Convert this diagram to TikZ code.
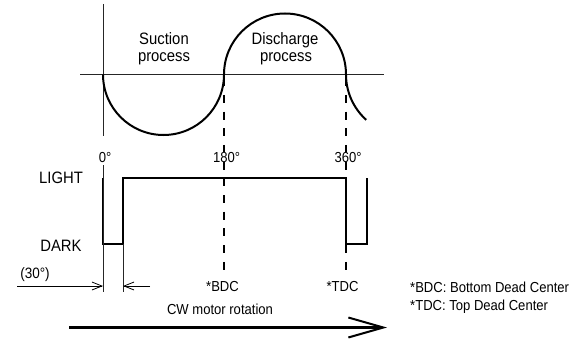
\documentclass[tikz,border=0pt]{standalone}
\usepackage{fontspec}
\setmainfont{Liberation Sans}[FakeStretch=0.9]
\usetikzlibrary{arrows.meta}
\begin{document}
\begin{tikzpicture}[x=1pt,y=1pt,
  thinline/.style={line width=1pt, black!85},
  curveline/.style={line width=2pt},
  wave/.style={line width=2pt, line join=miter},
  dashline/.style={line width=2.7pt, dash pattern=on 8pt off 8.7pt},
  bigtext/.style={font=\fontsize{16.5}{19}\selectfont, inner sep=0pt, anchor=base},
  smalltext/.style={font=\fontsize{14.5}{17}\selectfont, inner sep=0pt, anchor=base},
  dimarrow/.style={line width=0.8pt, -{Straight Barb[length=10pt,width=8pt]}},
  mainarrow/.style={line width=2.2pt, -{Straight Barb[length=35pt,width=20pt,line width=2pt]}}]
\useasboundingbox (0,0) rectangle (583,338);
% axes
\coordinate (ax0) at (80,263.5);
\coordinate (ax1) at (384,263.5);
\coordinate (vtop) at (103,334);
\coordinate (vbot) at (103,202);
\draw[thinline] (ax0) -- (ax1);
\draw[thinline] (vtop) -- (vbot);
% piston curve
\coordinate (c0) at (103,263.5);
\draw[curveline] (c0) arc[start angle=180,end angle=360,radius=60.5]
  arc[start angle=180,end angle=0,radius=61]
  arc[start angle=180,end angle=228,radius=61];
% dashed lines
\coordinate (d1t) at (224,259.9);
\coordinate (d1b) at (224,68);
\coordinate (d2t) at (346,259.9);
\coordinate (d2b) at (346,68);
\draw[dashline] (d1t) -- (d1b);
\draw[dashline] (d2t) -- (d2b);
% waveform
\coordinate (w1) at (103,160.3);
\coordinate (w2) at (103,93.7);
\coordinate (w3) at (123,93.7);
\coordinate (w4) at (123,160.3);
\coordinate (w5) at (346,160.3);
\coordinate (w6) at (346,93.7);
\coordinate (w7) at (367,93.7);
\coordinate (w8) at (367,160.3);
\draw[wave] (w1) -- (w2) -- (w3) -- (w4) -- (w5) -- (w6) -- (w7) -- (w8);
% extension lines and dimension
\coordinate (e1t) at (103,173);
\coordinate (e1b) at (103,46);
\coordinate (e2t) at (123,94);
\coordinate (e2b) at (123,46);
\draw[thinline] (e1t) -- (e1b);
\draw[thinline] (e2t) -- (e2b);
\coordinate (dl) at (17,52);
\coordinate (dla) at (103,52);
\coordinate (dr) at (150,52);
\coordinate (dra) at (123,52);
\draw[dimarrow] (dl) -- (dla);
\draw[dimarrow] (dr) -- (dra);
% labels
\node[bigtext] (suc1) at (164,293.7) {Suction};
\node[bigtext] (suc2) at (164,276.3) {process};
\node[bigtext] (dis1) at (285,293.7) {Discharge};
\node[bigtext] (dis2) at (286,276.3) {process};
\node[smalltext] (deg0) at (105,176) {0°};
\node[smalltext, fill=white] (deg180) at (226.7,176) {180°};
\node[smalltext, fill=white] (deg360) at (348,176) {360°};
\node[bigtext] (light) at (61,154.7) {LIGHT};
\node[bigtext] (dark) at (61,87) {DARK};
\node[smalltext, font=\fontsize{15}{18}\selectfont] (thirty) at (35,60) {(30°)};
\node[smalltext] (bdc) at (222.5,46.3) {*BDC};
\node[smalltext] (tdc) at (342.5,46.3) {*TDC};
\node[smalltext] (cw) at (220,23.7) {CW motor rotation};
\node[smalltext, anchor=base west] (leg1) at (410,46) {*BDC: Bottom Dead Center};
\node[smalltext, anchor=base west] (leg2) at (410,28) {*TDC: Top Dead Center};
% main arrow
\coordinate (ma0) at (69,10.5);
\coordinate (ma1) at (387,10.5);
\draw[mainarrow] (ma0) -- (ma1);
\end{tikzpicture}
\end{document}
